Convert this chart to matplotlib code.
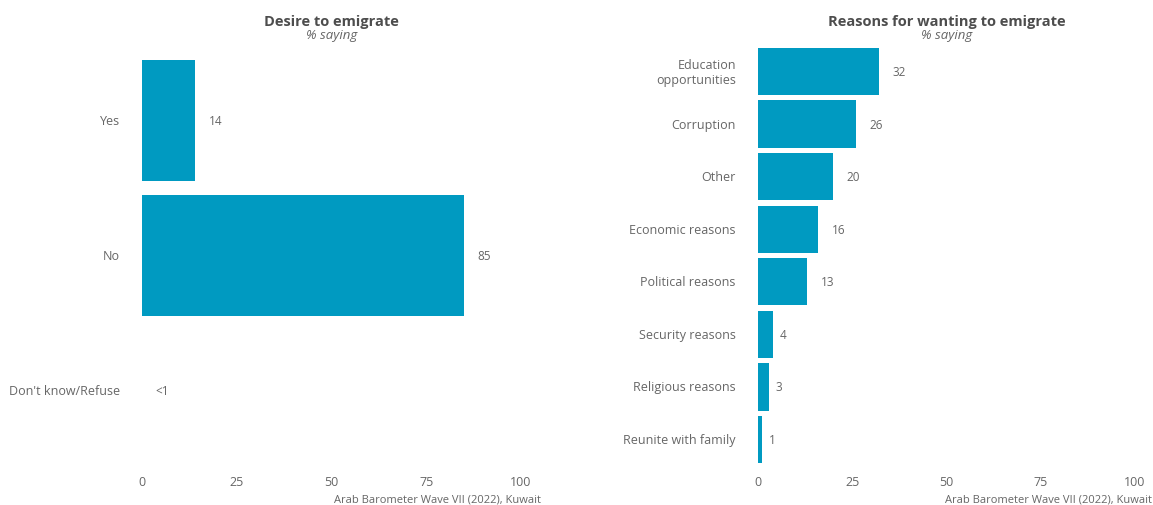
import numpy as np
import matplotlib.pyplot as plt

plt.rcParams['font.family'] = ['Open Sans', 'DejaVu Sans']

# desire to emigrate
desire_cats = ['Yes', 'No', "Don't know/Refuse"]
desire_vals = [14, 85, 0]
desire_labels = ['14', '85', '<1']

# reasons for wanting to emigrate
reason_cats = ['Education\nopportunities', 'Corruption', 'Other', 'Economic reasons',
               'Political reasons', 'Security reasons', 'Religious reasons',
               'Reunite with family']
reason_vals = [32, 26, 20, 16, 13, 4, 3, 1]
reason_labels = ['32', '26', '20', '16', '13', '4', '3', '1']

x_ticks = [0, 25, 50, 75, 100]

bar_color = '#009AC1'
text_gray = '#666666'
title_gray = '#4d4d4d'

fig = plt.figure(figsize=(11.53, 5.06), dpi=100)
ax1 = fig.add_axes([142 / 1153, 1 - 472 / 506, 379 / 1153, 431 / 506])
ax2 = fig.add_axes([758 / 1153, 1 - 472 / 506, 377 / 1153, 431 / 506])

value_texts = []


def draw_panel(ax, cats, vals, labels, title):
    n = len(cats)
    pos = np.arange(n)
    ax.barh(pos, vals, height=0.9, color=bar_color)
    ax.set_ylim(n - 0.4, -0.6)
    ax.set_xlim(0, 100)
    ax.set_yticks(pos)
    ax.set_yticklabels(cats, fontsize=9, color=text_gray, va='center')
    ax.set_xticks(x_ticks)
    ax.set_xticklabels([str(t) for t in x_ticks], fontsize=9, color=text_gray)
    ax.tick_params(axis='y', length=0, pad=16)
    ax.tick_params(axis='x', length=0, pad=3)
    for s in ax.spines.values():
        s.set_visible(False)
    for p, v, lbl in zip(pos, vals, labels):
        t = ax.annotate(lbl, xy=(v, p), xytext=(0, 0), textcoords='offset pixels',
                        ha='left', va='center', fontsize=8.5, color=text_gray)
        value_texts.append(t)
    ax.text(0.5, 1 + 15 / 431, title, transform=ax.transAxes, ha='center',
            va='baseline', fontsize=10.5, fontweight='bold', color=title_gray)
    ax.text(0.5, 1 + 2 / 431, '% saying', transform=ax.transAxes, ha='center',
            va='baseline', fontsize=9.5, style='italic', color=text_gray)


draw_panel(ax1, desire_cats, desire_vals, desire_labels, 'Desire to emigrate')
draw_panel(ax2, reason_cats, reason_vals, reason_labels, 'Reasons for wanting to emigrate')

fig.text(541 / 1153, 1 - 503 / 506, 'Arab Barometer Wave VII (2022), Kuwait',
         ha='right', va='baseline', fontsize=8, color=text_gray)
fig.text(1152 / 1153, 1 - 503 / 506, 'Arab Barometer Wave VII (2022), Kuwait',
         ha='right', va='baseline', fontsize=8, color=text_gray)

# push value labels right by their own width (like hjust = -1)
fig.canvas.draw()
renderer = fig.canvas.get_renderer()
for t in value_texts:
    w = t.get_window_extent(renderer).width
    t.set_position((w, 0))

fig.savefig('out.png', dpi=100)
